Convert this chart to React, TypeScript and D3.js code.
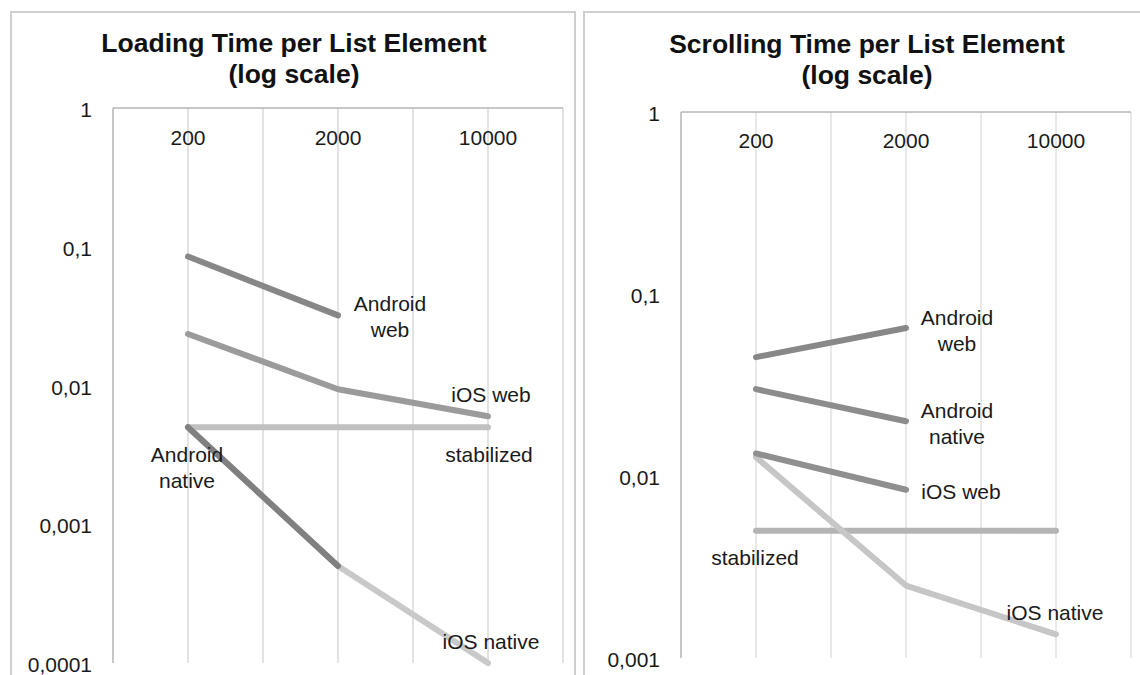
import React, { useEffect, useRef } from "react";
import * as d3 from "d3";

// Shared category axis (list sizes)
const categories = ["200", "2000", "10000"];

// Loading time per list element (seconds, log scale)
const loadAndroidWeb: (number | null)[] = [0.085, 0.032, null];
const loadIosWeb: (number | null)[] = [0.0235, 0.0094, 0.006];
const loadStabilized: (number | null)[] = [0.005, 0.005, 0.005];
const loadIosNative: (number | null)[] = [0.005, 0.0005, 0.0001];
const loadAndroidNative: (number | null)[] = [0.005, 0.0005, null];
const loadTicks = [1, 0.1, 0.01, 0.001, 0.0001];

// Scrolling time per list element (seconds, log scale)
const scrollAndroidWeb: (number | null)[] = [0.045, 0.065, null];
const scrollAndroidNative: (number | null)[] = [0.03, 0.02, null];
const scrollIosWeb: (number | null)[] = [0.0133, 0.0084, null];
const scrollStabilized: (number | null)[] = [0.005, 0.005, 0.005];
const scrollIosNative: (number | null)[] = [0.0127, 0.0025, 0.00135];
const scrollTicks = [1, 0.1, 0.01, 0.001];

type Series = {
  values: (number | null)[];
  color: string;
  label: string[];
  lx: number;
  ly: number;
};

type Panel = {
  title: string[];
  titleX: number;
  titleY: number[];
  frame: [number, number];
  plot: { x0: number; x1: number; y0: number; y1: number };
  ticks: number[];
  grid: string;
  gridWidth: number;
  catY: number;
  series: Series[];
};

const panels: Panel[] = [
  {
    title: ["Loading Time per List Element", "(log scale)"],
    titleX: 294,
    titleY: [52, 83],
    frame: [11, 575],
    plot: { x0: 113, x1: 563, y0: 108, y1: 663 },
    ticks: loadTicks,
    grid: "#e2e2e2",
    gridWidth: 2,
    catY: 145,
    series: [
      { values: loadAndroidWeb, color: "#878787", label: ["Android", "web"], lx: 390, ly: 304 },
      { values: loadIosWeb, color: "#9b9b9b", label: ["iOS web"], lx: 491, ly: 395 },
      { values: loadStabilized, color: "#c0c0c0", label: ["stabilized"], lx: 489, ly: 455 },
      { values: loadIosNative, color: "#c9c9c9", label: ["iOS native"], lx: 491, ly: 642 },
      { values: loadAndroidNative, color: "#808080", label: ["Android", "native"], lx: 187, ly: 455 },
    ],
  },
  {
    title: ["Scrolling Time per List Element", "(log scale)"],
    titleX: 867,
    titleY: [53, 84],
    frame: [584, 1150],
    plot: { x0: 681, x1: 1131, y0: 112, y1: 658 },
    ticks: scrollTicks,
    grid: "#d2d2d2",
    gridWidth: 1,
    catY: 148,
    series: [
      { values: scrollStabilized, color: "#b4b4b4", label: ["stabilized"], lx: 755, ly: 558 },
      { values: scrollIosNative, color: "#c6c6c6", label: ["iOS native"], lx: 1055, ly: 613 },
      { values: scrollAndroidWeb, color: "#888888", label: ["Android", "web"], lx: 957, ly: 318 },
      { values: scrollAndroidNative, color: "#8c8c8c", label: ["Android", "native"], lx: 957, ly: 411 },
      { values: scrollIosWeb, color: "#8f8f8f", label: ["iOS web"], lx: 961, ly: 492 },
    ],
  },
];

const fmt = (v: number) => String(v).replace(".", ",");

export default function App() {
  const ref = useRef<SVGSVGElement>(null);

  useEffect(() => {
    const svg = d3.select(ref.current);
    svg.selectAll("*").remove();
    const font = "'Liberation Sans', Arial, Helvetica, sans-serif";

    panels.forEach((p) => {
      const g = svg.append("g");
      const { x0, x1, y0, y1 } = p.plot;

      // panel frame
      g.append("rect")
        .attr("x", p.frame[0])
        .attr("y", 12)
        .attr("width", p.frame[1] - p.frame[0])
        .attr("height", 700)
        .attr("fill", "#fff")
        .attr("stroke", "#cfcfcf")
        .attr("stroke-width", 2);

      const x = d3.scaleBand<string>().domain(categories).range([x0, x1]).padding(0);
      const y = d3
        .scaleLog()
        .domain([p.ticks[p.ticks.length - 1], p.ticks[0]])
        .range([y1, y0]);

      // vertical gridlines at band edges and centres
      const gridXs: number[] = [];
      categories.forEach((c) => {
        gridXs.push(x(c)!, x(c)! + x.bandwidth() / 2);
      });
      gridXs.push(x1);
      g.selectAll("line.grid")
        .data(gridXs.slice(1))
        .join("line")
        .attr("x1", (d) => d)
        .attr("x2", (d) => d)
        .attr("y1", y0)
        .attr("y2", y1)
        .attr("stroke", p.grid)
        .attr("stroke-width", p.gridWidth);

      // axis lines (left + top)
      g.append("line")
        .attr("x1", x0).attr("x2", x0).attr("y1", y0).attr("y2", y1)
        .attr("stroke", "#b5b5b5").attr("stroke-width", 1.5);
      g.append("line")
        .attr("x1", x0).attr("x2", x1).attr("y1", y0).attr("y2", y0)
        .attr("stroke", "#b5b5b5").attr("stroke-width", 1.5);

      // y tick labels
      g.selectAll("text.yt")
        .data(p.ticks)
        .join("text")
        .attr("x", x0 - 21)
        .attr("y", (d) => y(d) + 9)
        .attr("text-anchor", "end")
        .attr("font-family", font)
        .attr("font-size", 21)
        .attr("fill", "#1a1a1a")
        .text((d) => fmt(d));

      // category labels along the top
      g.selectAll("text.xt")
        .data(categories)
        .join("text")
        .attr("x", (d) => x(d)! + x.bandwidth() / 2)
        .attr("y", p.catY)
        .attr("text-anchor", "middle")
        .attr("font-family", font)
        .attr("font-size", 21)
        .attr("fill", "#1a1a1a")
        .text((d) => d);

      // title
      p.title.forEach((t, i) => {
        g.append("text")
          .attr("x", p.titleX)
          .attr("y", p.titleY[i])
          .attr("text-anchor", "middle")
          .attr("font-family", font)
          .attr("font-weight", "bold")
          .attr("font-size", 26.5)
          .attr("fill", "#111")
          .text(t);
      });

      // series lines
      const line = d3
        .line<number | null>()
        .defined((d) => d != null)
        .x((_, i) => x(categories[i])! + x.bandwidth() / 2)
        .y((d) => y(d as number));

      p.series.forEach((s) => {
        g.append("path")
          .attr("d", line(s.values) || "")
          .attr("fill", "none")
          .attr("stroke", s.color)
          .attr("stroke-width", 6)
          .attr("stroke-linecap", "round")
          .attr("stroke-linejoin", "round");
      });

      // series labels
      p.series.forEach((s) => {
        s.label.forEach((t, i) => {
          g.append("text")
            .attr("x", s.lx)
            .attr("y", s.ly + i * 26 + 7)
            .attr("text-anchor", "middle")
            .attr("font-family", font)
            .attr("font-size", 21)
            .attr("fill", "#1a1a1a")
            .text(t);
        });
      });
    });
  }, []);

  return (
    <svg
      ref={ref}
      width={1140}
      height={675}
      style={{ position: "absolute", left: 0, top: 0, background: "#fff" }}
    />
  );
}
